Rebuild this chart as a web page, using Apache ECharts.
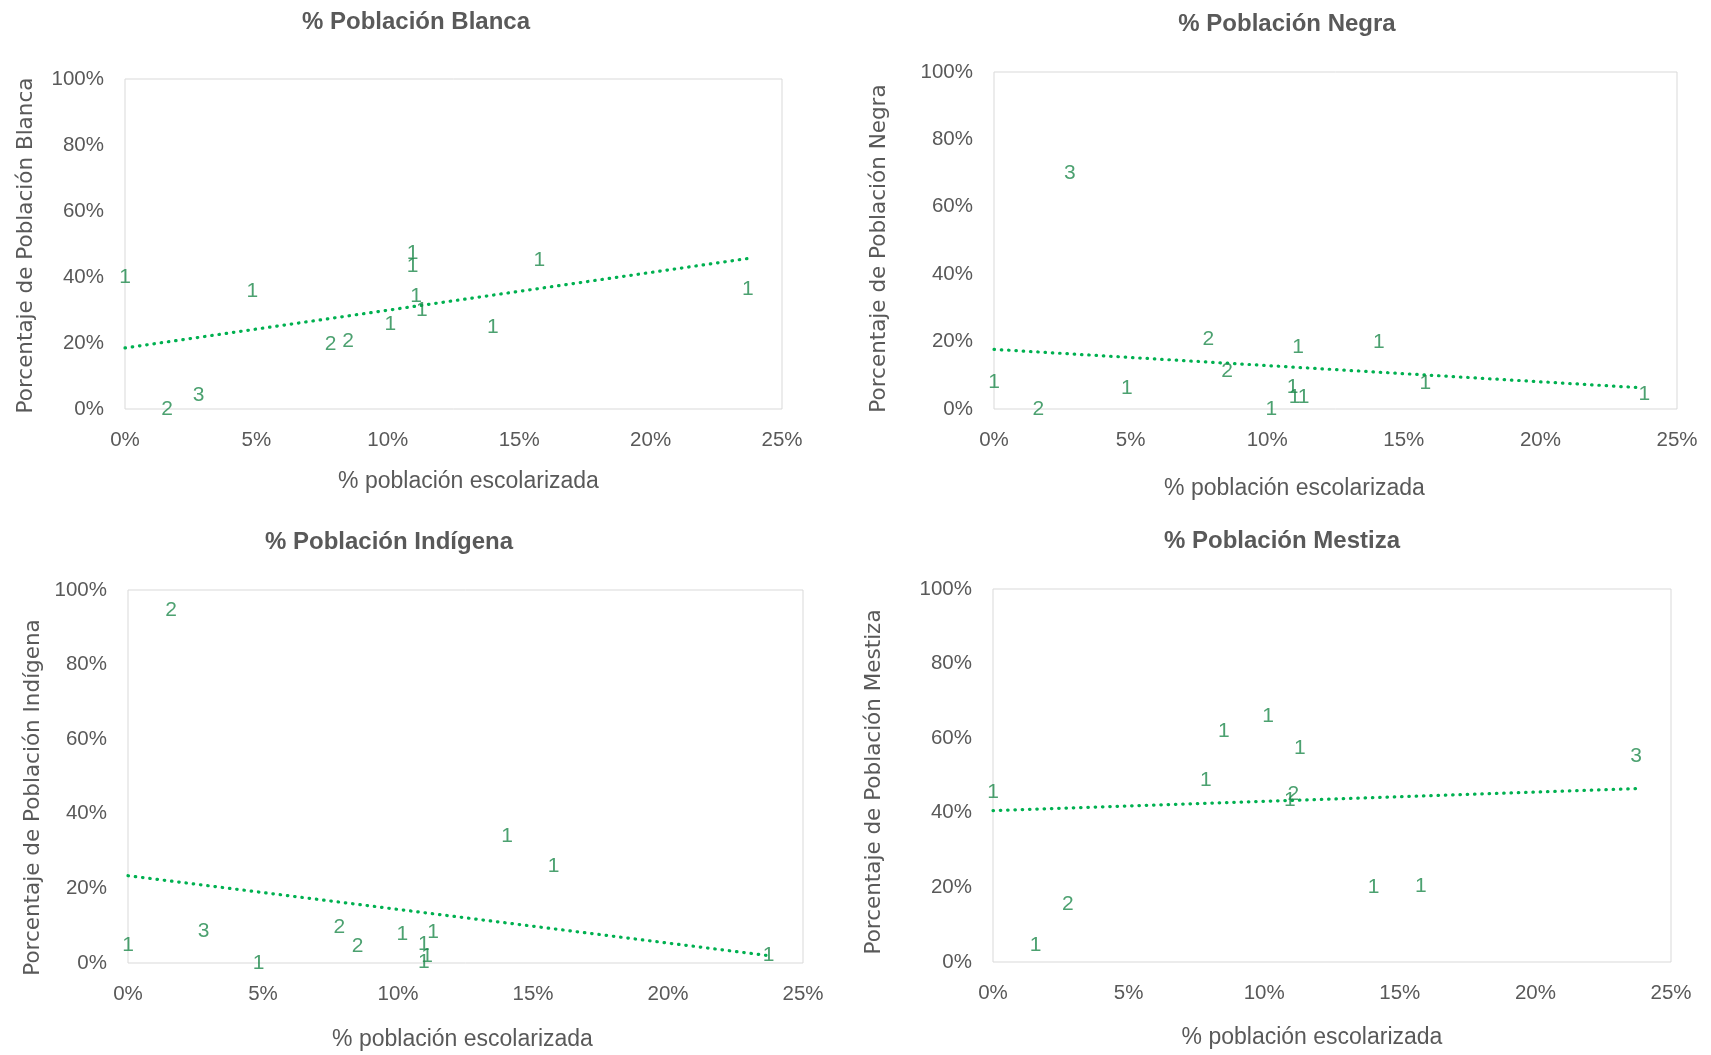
<!DOCTYPE html>
<html>
<head>
<meta charset="utf-8">
<script src="https://cdn.jsdelivr.net/npm/echarts@6/dist/echarts.min.js"></script>
<style>
html,body{margin:0;padding:0;background:#fff;}
#c{width:1711px;height:1055px;}
</style>
</head>
<body>
<div id="c"></div>
<script>
// ---- data (x = % población escolarizada, y = % población del grupo, lbl = etiqueta) ----
const xBlanca = [0, 1.6, 2.8, 4.85, 7.82, 8.49, 10.1, 10.94, 10.94, 11.08, 11.3, 14.0, 15.77, 23.7];
const yBlanca = [40, 0, 4.1, 35.7, 19.5, 20.6, 25.6, 47.1, 43.4, 34.3, 29.9, 24.9, 45.1, 36.4];
const lblBlanca = ['1','2','3','1','2','2','1','1','1','1','1','1','1','1'];

const xNegra = [0, 1.62, 2.78, 4.86, 7.85, 8.53, 10.15, 10.93, 11.0, 11.13, 11.33, 14.09, 15.79, 23.8];
const yNegra = [7.9, 0, 70, 6.1, 20.7, 11.3, 0, 6.4, 3.4, 18.2, 3.4, 19.7, 7.7, 4.4];
const lblNegra = ['1','2','3','1','2','2','1','1','1','1','1','1','1','1'];

const xIndigena = [0, 1.6, 2.8, 4.84, 7.83, 8.5, 10.16, 10.96, 10.96, 11.08, 11.3, 14.04, 15.76, 23.73];
const yIndigena = [4.8, 94.7, 8.5, 0, 9.6, 4.5, 7.6, 5.0, 0.2, 1.8, 8.3, 34.0, 26.0, 2.0];
const lblIndigena = ['1','2','3','1','2','2','1','1','1','1','1','1','1','1'];

const xMestiza = [0, 1.57, 2.76, 7.85, 8.51, 10.14, 10.95, 11.07, 11.31, 14.03, 15.78, 23.71];
const yMestiza = [45.6, 4.6, 15.5, 48.8, 62.0, 65.9, 43.3, 45.0, 57.2, 20.1, 20.4, 55.3];
const lblMestiza = ['1','1','2','1','1','1','1','2','1','1','1','3'];

// trend lines (linear): [x0, x1], [y0, y1]
const trendX = [0, 23.7];
const trendBlanca = [18.5, 45.6];
const trendNegra = [17.7, 6.3];
const trendIndigena = [23.4, 2.0];
const trendMestiza = [40.6, 46.5];

const titles = ['% Población Blanca', '% Población Negra', '% Población Indígena', '% Población Mestiza'];
const yNames = ['Porcentaje de Población Blanca', 'Porcentaje de Población Negra', 'Porcentaje de Población Indígena', 'Porcentaje de Población Mestiza'];
const xName = '% población escolarizada';
const xTicks = [0, 5, 10, 15, 20, 25];
const yTicks = [0, 20, 40, 60, 80, 100];

// ---- layout ----
const grids = [
  {left:125, top:79, width:657, height:330},
  {left:994, top:72, width:683, height:337},
  {left:128, top:590, width:675, height:373},
  {left:993, top:589, width:678, height:373}
];
const titlePos = [[411, 5], [1282, 7], [384, 525], [1277, 524]];
const xNameGap = [61, 68, 65, 64];
const xNamePad = [[0, 0, 0, 30], [0, 82, 0, 0], [0, 6, 0, 0], [0, 40, 0, 0]];
const yNameGap = [88, 104, 84, 108];
const yNamePad = [[0, 3, 0, 0], [0, 16, 0, 0], [0, 42, 0, 0], [0, 13, 0, 0]];

const panels = [
  [xBlanca, yBlanca, lblBlanca, trendBlanca],
  [xNegra, yNegra, lblNegra, trendNegra],
  [xIndigena, yIndigena, lblIndigena, trendIndigena],
  [xMestiza, yMestiza, lblMestiza, trendMestiza]
];

const GRAY = '#595959';
const GREEN_LBL = '#1F8A4C';
const GREEN_LINE = '#00B050';

const option = {
  backgroundColor: '#fff',
  animation: false,
  title: titles.map((t, i) => ({
    text: t, left: titlePos[i][0], top: titlePos[i][1], textAlign: 'center',
    textStyle: {fontFamily: 'Liberation Sans', fontWeight: 'bold', fontSize: 24, color: GRAY}
  })),
  grid: grids.map(g => Object.assign({show: true, borderColor: '#D9D9D9', borderWidth: 1, backgroundColor: 'transparent'}, g)),
  xAxis: grids.map((g, i) => ({
    type: 'value', gridIndex: i, min: 0, max: 25, interval: 5,
    name: xName, nameLocation: 'middle', nameGap: xNameGap[i],
    nameTextStyle: {fontFamily: 'Liberation Sans', fontSize: 23, color: GRAY, padding: xNamePad[i]},
    axisLine: {show: false}, axisTick: {show: false}, splitLine: {show: false},
    axisLabel: {margin: 21, fontFamily: 'Liberation Sans', fontSize: 20.5, color: GRAY,
      formatter: v => xTicks.indexOf(v) >= 0 ? v + '%' : ''}
  })),
  yAxis: grids.map((g, i) => ({
    type: 'value', gridIndex: i, min: 0, max: 100, interval: 20,
    name: yNames[i], nameLocation: 'middle', nameGap: yNameGap[i], nameRotate: 90,
    nameTextStyle: {fontFamily: 'DejaVu Sans', fontSize: 21.5, color: GRAY, padding: yNamePad[i]},
    axisLine: {show: false}, axisTick: {show: false}, splitLine: {show: false},
    axisLabel: {margin: 21, fontFamily: 'Liberation Sans', fontSize: 20.5, color: GRAY,
      formatter: v => yTicks.indexOf(v) >= 0 ? v + '%' : ''}
  })),
  series: []
};

panels.forEach((p, i) => {
  const [xs, ys, lbls, tr] = p;
  option.series.push({
    type: 'line', xAxisIndex: i, yAxisIndex: i, symbol: 'none', silent: true, z: 1,
    data: [[trendX[0], tr[0]], [trendX[1], tr[1]]],
    lineStyle: {color: GREEN_LINE, width: 3.2, type: [0.5, 6.8], cap: 'round'}
  });
  option.series.push({
    type: 'scatter', xAxisIndex: i, yAxisIndex: i, symbolSize: 1, clip: false, z: 3,
    itemStyle: {color: 'transparent'},
    data: xs.map((x, k) => [x, ys[k], lbls[k]]),
    label: {show: true, position: 'inside', formatter: pr => pr.value[2],
      fontFamily: 'Liberation Sans', fontSize: 21, color: GREEN_LBL}
  });
});

const chart = echarts.init(document.getElementById('c'), null, {renderer: 'canvas'});
chart.setOption(option);
</script>
</body>
</html>
